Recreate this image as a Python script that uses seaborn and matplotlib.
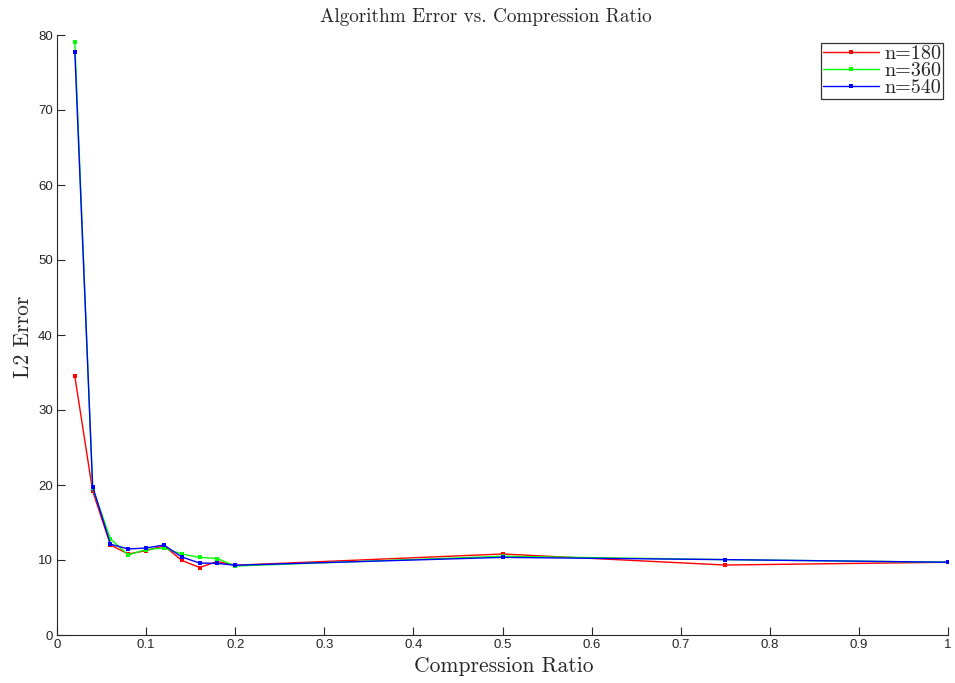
import numpy as np
import pandas as pd
import matplotlib
matplotlib.use("Agg")
import matplotlib.pyplot as plt
import seaborn as sns

ratios = [0.02, 0.04, 0.06, 0.08, 0.10, 0.12, 0.14, 0.16, 0.18, 0.20, 0.50, 0.75, 1.00]
err_180 = [34.5, 19.2, 12.0, 10.8, 11.25, 11.9, 9.95, 9.0, 9.8, 9.3, 10.8, 9.33, 9.7]
err_360 = [79.1, 19.6, 12.8, 10.67, 11.4, 11.6, 10.8, 10.35, 10.2, 9.2, 10.5, 10.05, 9.7]
err_540 = [77.8, 19.8, 12.1, 11.47, 11.6, 12.0, 10.4, 9.6, 9.55, 9.3, 10.35, 10.05, 9.7]
series_names = ["n=180", "n=360", "n=540"]
colors = ["#ff0000", "#00ff00", "#0000ff"]

df = pd.DataFrame({
    "ratio": ratios * 3,
    "err": err_180 + err_360 + err_540,
    "series": [series_names[0]] * len(ratios) + [series_names[1]] * len(ratios) + [series_names[2]] * len(ratios),
})

sns.set_style("white")
plt.rcParams["font.family"] = ["Liberation Sans", "DejaVu Sans"]
plt.rcParams["mathtext.fontset"] = "cm"

fig = plt.figure(figsize=(9.55, 6.83), dpi=100)
ax = fig.add_axes([57 / 955, 48 / 683, (948 - 57) / 955, (635 - 35) / 683])

sns.lineplot(data=df, x="ratio", y="err", hue="series", palette=colors,
             hue_order=series_names, marker="s", markersize=2.3,
             markeredgewidth=0, linewidth=1.0, ax=ax, legend=True)

ax.set_xlim(0, 1)
ax.set_ylim(0, 80)
ax.set_xticks(np.arange(0, 1.01, 0.1))
ax.set_xticklabels(["0", "0.1", "0.2", "0.3", "0.4", "0.5", "0.6", "0.7", "0.8", "0.9", "1"])
ax.set_yticks(np.arange(0, 81, 10))
ax.tick_params(direction="in", length=6, width=0.8, labelsize=9.5, colors="#262626",
               left=True, bottom=True, pad=3)
for s in ["top", "right"]:
    ax.spines[s].set_visible(False)
for s in ["left", "bottom"]:
    ax.spines[s].set_color("#262626")
    ax.spines[s].set_linewidth(0.8)

serif = {"family": "cmr10"}
ax.set_title("Algorithm Error vs. Compression Ratio", fontdict=serif, fontsize=13.8,
             x=0.4815, y=1.0217, pad=0)
ax.set_xlabel("Compression Ratio", fontdict=serif, fontsize=15.5)
ax.set_ylabel("L2 Error", fontdict=serif, fontsize=15.5)
ax.xaxis.set_label_coords(0.5017, -0.036)
ax.yaxis.set_label_coords(-0.027, 0.4975)

leg = ax.legend(loc="upper right", bbox_to_anchor=(0.9944, 0.9867), frameon=True,
                prop={"family": "cmr10", "size": 14.5}, handlelength=2.8,
                handletextpad=0.25, borderpad=0.1, labelspacing=-0.05,
                borderaxespad=0.0, fancybox=False)
leg.get_frame().set_edgecolor("black")
leg.get_frame().set_linewidth(0.9)

fig.savefig("out.png", dpi=100)
